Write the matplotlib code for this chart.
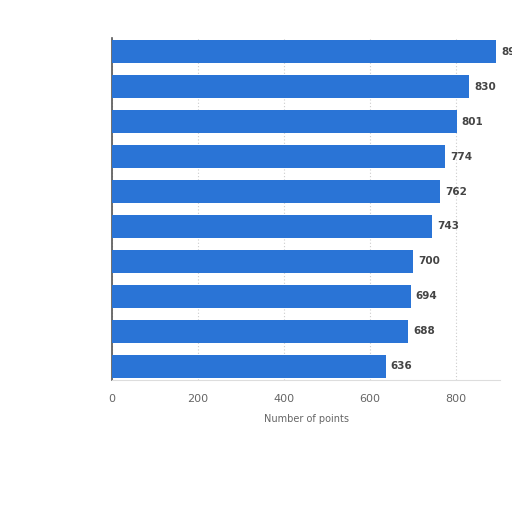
import matplotlib
matplotlib.use("Agg")
import matplotlib.pyplot as plt
import numpy as np

values = [893, 830, 801, 774, 762, 743, 700, 694, 688, 636]
value_labels = ["893", "830", "801", "774", "762", "743", "700", "694", "688", "636"]
xticks = [0, 200, 400, 600, 800]
xticklabels = ["0", "200", "400", "600", "800"]
xlabel = "Number of points"

fig = plt.figure(figsize=(5.12, 5.12), dpi=100)
ax = fig.add_axes([112/512, 1-380/512, 388/512, (380-38)/512])

y = np.arange(len(values))
ax.barh(y, values, height=0.66, color="#2a74d6", zorder=3)
ax.set_ylim(9.4, -0.4)
ax.set_xlim(0, 902)

for yi, v, lab in zip(y, values, value_labels):
    ax.text(v + 12, yi, lab, va="center", ha="left", fontsize=7.5,
            fontweight="bold", color="#444444", clip_on=False)

ax.set_xticks(xticks)
ax.set_xticklabels(xticklabels, fontsize=8, color="#666666")
ax.set_yticks([])
ax.tick_params(axis="x", length=0, pad=10)
ax.grid(axis="x", linestyle=(0, (1, 2)), color="#cccccc", linewidth=0.8, zorder=0)
for s in ["top", "right"]:
    ax.spines[s].set_visible(False)
ax.spines["bottom"].set_color("#dddddd")
ax.spines["left"].set_color("#555555")
ax.spines["left"].set_linewidth(1.2)
ax.set_xlabel(xlabel, fontsize=7, color="#666666", labelpad=7)

fig.savefig("out.png", dpi=100)
